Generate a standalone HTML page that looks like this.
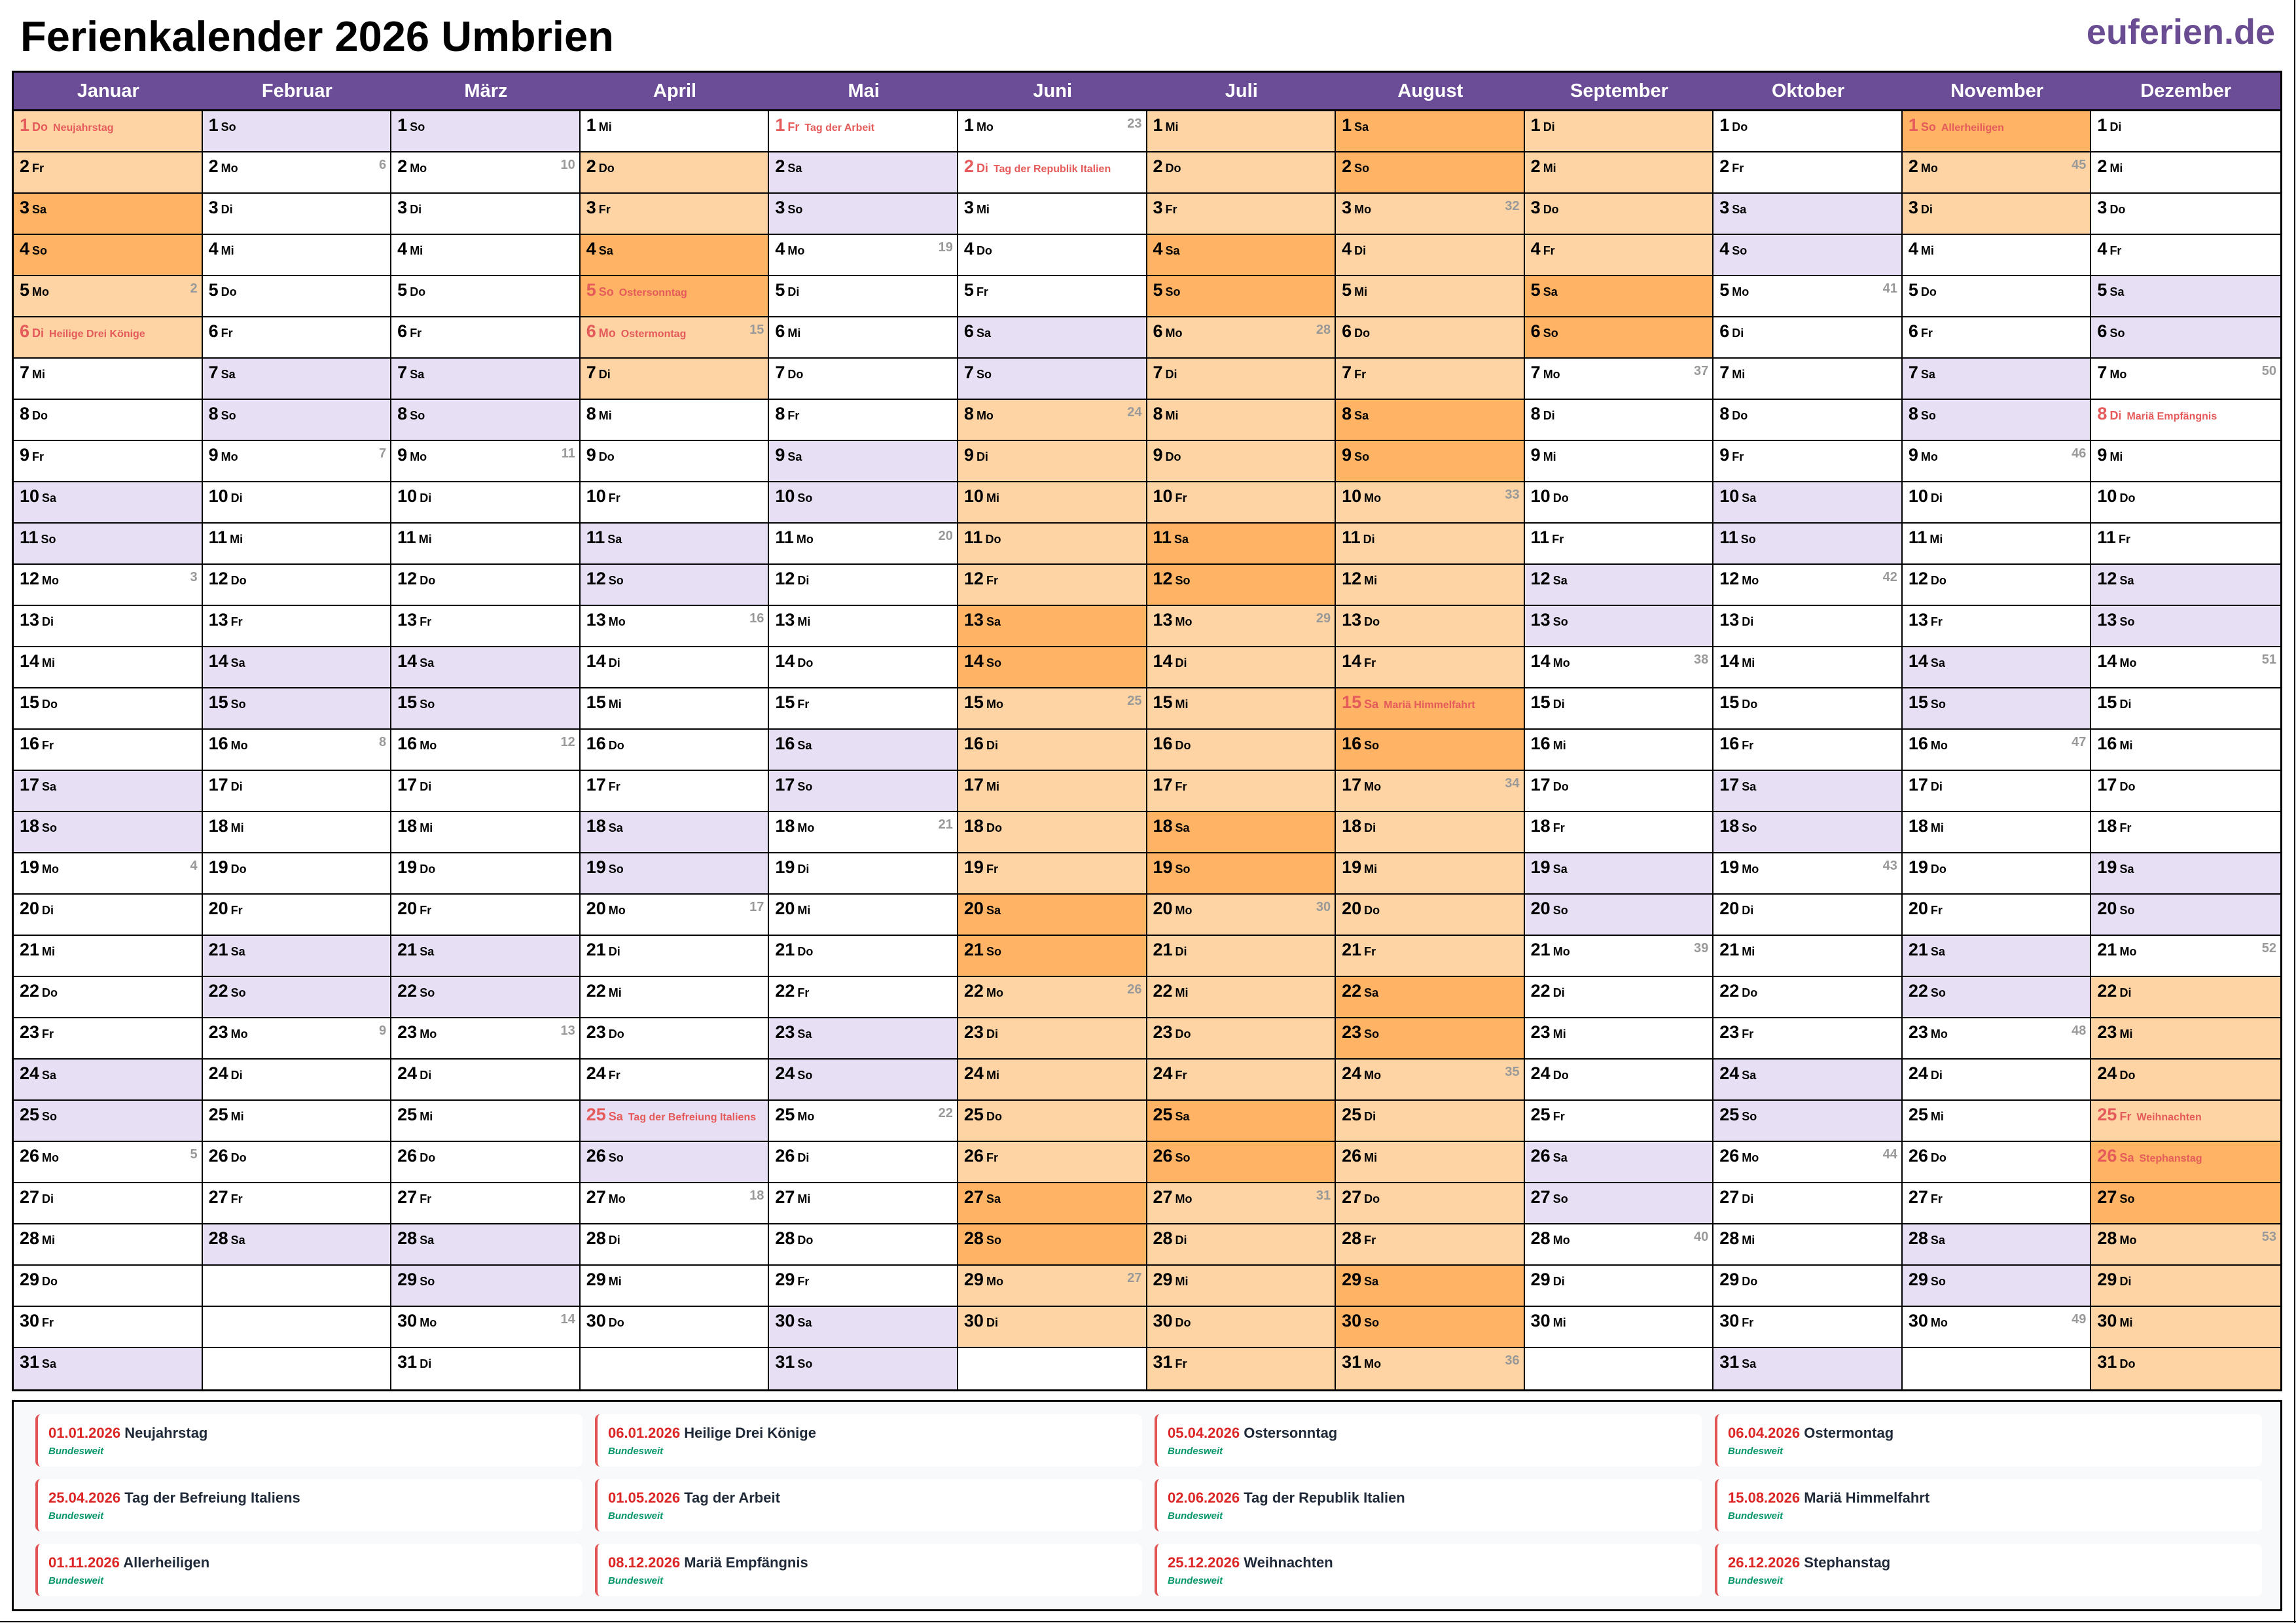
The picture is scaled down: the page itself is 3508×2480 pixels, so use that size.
<!DOCTYPE html>
<html><head><meta charset="utf-8"><style>
*{box-sizing:border-box}
body{margin:0;width:3508px;height:2480px;background:#fff;position:relative;overflow:hidden;font-family:"Liberation Sans",sans-serif}
.t{position:absolute;left:31px;top:18px;font:bold 65px "Liberation Sans",sans-serif;color:#000;white-space:nowrap}
.lg{position:absolute;right:32px;top:18px;font:bold 54px "Liberation Sans",sans-serif;color:#6a4c93}
.tb{position:absolute;left:18px;top:108px;width:3469px;border:3px solid #000}
.hd{display:grid;grid-template-columns:repeat(12,1fr);height:59px;background:#6b4c96;border-bottom:3px solid #000}
.hd div{color:#fff;font-weight:bold;font-size:29px;text-align:center;line-height:56px}
.g{display:grid;grid-template-columns:repeat(12,1fr);grid-template-rows:repeat(31,63px);grid-auto-flow:column}
.g p{margin:0;border-right:2px solid #000;border-bottom:2px solid #000;position:relative;padding:5px 0 0 9px;font-weight:bold;font-size:27px;line-height:32px;white-space:nowrap;overflow:hidden;color:#000}
.g p:nth-child(n+342){border-right:0}
.g p:nth-child(31n){border-bottom:0}
.g b{font-size:18px;margin-left:4px}
.g u{text-decoration:none;font-size:16px;margin-left:8px}
.g i{position:absolute;right:6px;top:3px;font-style:normal;font-size:20px;color:#999}
.l{background:#fed4a4}.d{background:#feb365}.w{background:#e7dff3}.r{color:#e55a5a!important}
.le{position:absolute;left:18px;top:2139px;width:3469px;height:323px;border:3px solid #000;background:#f8f9fb}
.c{position:absolute;width:836px;height:80px;background:#fff;border-left:4px solid #e25555;border-radius:8px;padding:16px 0 0 16px}
.c div{font-size:22px;font-weight:bold;color:#1f2937;white-space:nowrap;line-height:26px}
.c div span{color:#dc2626}
.c em{display:block;font-size:15px;font-weight:bold;color:#059669;margin-top:6px}
</style></head><body>
<div class="t">Ferienkalender 2026 Umbrien</div>
<div class="lg">euferien.de</div>
<div class="tb">
<div class="hd"><div>Januar</div><div>Februar</div><div>März</div><div>April</div><div>Mai</div><div>Juni</div><div>Juli</div><div>August</div><div>September</div><div>Oktober</div><div>November</div><div>Dezember</div></div>
<div class="g">
<p class="l r">1<b>Do</b><u>Neujahrstag</u></p><p class="l">2<b>Fr</b></p><p class="d">3<b>Sa</b></p><p class="d">4<b>So</b></p><p class="l">5<b>Mo</b><i>2</i></p><p class="l r">6<b>Di</b><u>Heilige Drei Könige</u></p><p>7<b>Mi</b></p><p>8<b>Do</b></p><p>9<b>Fr</b></p><p class="w">10<b>Sa</b></p><p class="w">11<b>So</b></p><p>12<b>Mo</b><i>3</i></p><p>13<b>Di</b></p><p>14<b>Mi</b></p><p>15<b>Do</b></p><p>16<b>Fr</b></p><p class="w">17<b>Sa</b></p><p class="w">18<b>So</b></p><p>19<b>Mo</b><i>4</i></p><p>20<b>Di</b></p><p>21<b>Mi</b></p><p>22<b>Do</b></p><p>23<b>Fr</b></p><p class="w">24<b>Sa</b></p><p class="w">25<b>So</b></p><p>26<b>Mo</b><i>5</i></p><p>27<b>Di</b></p><p>28<b>Mi</b></p><p>29<b>Do</b></p><p>30<b>Fr</b></p><p class="w">31<b>Sa</b></p>
<p class="w">1<b>So</b></p><p>2<b>Mo</b><i>6</i></p><p>3<b>Di</b></p><p>4<b>Mi</b></p><p>5<b>Do</b></p><p>6<b>Fr</b></p><p class="w">7<b>Sa</b></p><p class="w">8<b>So</b></p><p>9<b>Mo</b><i>7</i></p><p>10<b>Di</b></p><p>11<b>Mi</b></p><p>12<b>Do</b></p><p>13<b>Fr</b></p><p class="w">14<b>Sa</b></p><p class="w">15<b>So</b></p><p>16<b>Mo</b><i>8</i></p><p>17<b>Di</b></p><p>18<b>Mi</b></p><p>19<b>Do</b></p><p>20<b>Fr</b></p><p class="w">21<b>Sa</b></p><p class="w">22<b>So</b></p><p>23<b>Mo</b><i>9</i></p><p>24<b>Di</b></p><p>25<b>Mi</b></p><p>26<b>Do</b></p><p>27<b>Fr</b></p><p class="w">28<b>Sa</b></p><p></p><p></p><p></p>
<p class="w">1<b>So</b></p><p>2<b>Mo</b><i>10</i></p><p>3<b>Di</b></p><p>4<b>Mi</b></p><p>5<b>Do</b></p><p>6<b>Fr</b></p><p class="w">7<b>Sa</b></p><p class="w">8<b>So</b></p><p>9<b>Mo</b><i>11</i></p><p>10<b>Di</b></p><p>11<b>Mi</b></p><p>12<b>Do</b></p><p>13<b>Fr</b></p><p class="w">14<b>Sa</b></p><p class="w">15<b>So</b></p><p>16<b>Mo</b><i>12</i></p><p>17<b>Di</b></p><p>18<b>Mi</b></p><p>19<b>Do</b></p><p>20<b>Fr</b></p><p class="w">21<b>Sa</b></p><p class="w">22<b>So</b></p><p>23<b>Mo</b><i>13</i></p><p>24<b>Di</b></p><p>25<b>Mi</b></p><p>26<b>Do</b></p><p>27<b>Fr</b></p><p class="w">28<b>Sa</b></p><p class="w">29<b>So</b></p><p>30<b>Mo</b><i>14</i></p><p>31<b>Di</b></p>
<p>1<b>Mi</b></p><p class="l">2<b>Do</b></p><p class="l">3<b>Fr</b></p><p class="d">4<b>Sa</b></p><p class="d r">5<b>So</b><u>Ostersonntag</u></p><p class="l r">6<b>Mo</b><u>Ostermontag</u><i>15</i></p><p class="l">7<b>Di</b></p><p>8<b>Mi</b></p><p>9<b>Do</b></p><p>10<b>Fr</b></p><p class="w">11<b>Sa</b></p><p class="w">12<b>So</b></p><p>13<b>Mo</b><i>16</i></p><p>14<b>Di</b></p><p>15<b>Mi</b></p><p>16<b>Do</b></p><p>17<b>Fr</b></p><p class="w">18<b>Sa</b></p><p class="w">19<b>So</b></p><p>20<b>Mo</b><i>17</i></p><p>21<b>Di</b></p><p>22<b>Mi</b></p><p>23<b>Do</b></p><p>24<b>Fr</b></p><p class="w r">25<b>Sa</b><u>Tag der Befreiung Italiens</u></p><p class="w">26<b>So</b></p><p>27<b>Mo</b><i>18</i></p><p>28<b>Di</b></p><p>29<b>Mi</b></p><p>30<b>Do</b></p><p></p>
<p class="r">1<b>Fr</b><u>Tag der Arbeit</u></p><p class="w">2<b>Sa</b></p><p class="w">3<b>So</b></p><p>4<b>Mo</b><i>19</i></p><p>5<b>Di</b></p><p>6<b>Mi</b></p><p>7<b>Do</b></p><p>8<b>Fr</b></p><p class="w">9<b>Sa</b></p><p class="w">10<b>So</b></p><p>11<b>Mo</b><i>20</i></p><p>12<b>Di</b></p><p>13<b>Mi</b></p><p>14<b>Do</b></p><p>15<b>Fr</b></p><p class="w">16<b>Sa</b></p><p class="w">17<b>So</b></p><p>18<b>Mo</b><i>21</i></p><p>19<b>Di</b></p><p>20<b>Mi</b></p><p>21<b>Do</b></p><p>22<b>Fr</b></p><p class="w">23<b>Sa</b></p><p class="w">24<b>So</b></p><p>25<b>Mo</b><i>22</i></p><p>26<b>Di</b></p><p>27<b>Mi</b></p><p>28<b>Do</b></p><p>29<b>Fr</b></p><p class="w">30<b>Sa</b></p><p class="w">31<b>So</b></p>
<p>1<b>Mo</b><i>23</i></p><p class="r">2<b>Di</b><u>Tag der Republik Italien</u></p><p>3<b>Mi</b></p><p>4<b>Do</b></p><p>5<b>Fr</b></p><p class="w">6<b>Sa</b></p><p class="w">7<b>So</b></p><p class="l">8<b>Mo</b><i>24</i></p><p class="l">9<b>Di</b></p><p class="l">10<b>Mi</b></p><p class="l">11<b>Do</b></p><p class="l">12<b>Fr</b></p><p class="d">13<b>Sa</b></p><p class="d">14<b>So</b></p><p class="l">15<b>Mo</b><i>25</i></p><p class="l">16<b>Di</b></p><p class="l">17<b>Mi</b></p><p class="l">18<b>Do</b></p><p class="l">19<b>Fr</b></p><p class="d">20<b>Sa</b></p><p class="d">21<b>So</b></p><p class="l">22<b>Mo</b><i>26</i></p><p class="l">23<b>Di</b></p><p class="l">24<b>Mi</b></p><p class="l">25<b>Do</b></p><p class="l">26<b>Fr</b></p><p class="d">27<b>Sa</b></p><p class="d">28<b>So</b></p><p class="l">29<b>Mo</b><i>27</i></p><p class="l">30<b>Di</b></p><p></p>
<p class="l">1<b>Mi</b></p><p class="l">2<b>Do</b></p><p class="l">3<b>Fr</b></p><p class="d">4<b>Sa</b></p><p class="d">5<b>So</b></p><p class="l">6<b>Mo</b><i>28</i></p><p class="l">7<b>Di</b></p><p class="l">8<b>Mi</b></p><p class="l">9<b>Do</b></p><p class="l">10<b>Fr</b></p><p class="d">11<b>Sa</b></p><p class="d">12<b>So</b></p><p class="l">13<b>Mo</b><i>29</i></p><p class="l">14<b>Di</b></p><p class="l">15<b>Mi</b></p><p class="l">16<b>Do</b></p><p class="l">17<b>Fr</b></p><p class="d">18<b>Sa</b></p><p class="d">19<b>So</b></p><p class="l">20<b>Mo</b><i>30</i></p><p class="l">21<b>Di</b></p><p class="l">22<b>Mi</b></p><p class="l">23<b>Do</b></p><p class="l">24<b>Fr</b></p><p class="d">25<b>Sa</b></p><p class="d">26<b>So</b></p><p class="l">27<b>Mo</b><i>31</i></p><p class="l">28<b>Di</b></p><p class="l">29<b>Mi</b></p><p class="l">30<b>Do</b></p><p class="l">31<b>Fr</b></p>
<p class="d">1<b>Sa</b></p><p class="d">2<b>So</b></p><p class="l">3<b>Mo</b><i>32</i></p><p class="l">4<b>Di</b></p><p class="l">5<b>Mi</b></p><p class="l">6<b>Do</b></p><p class="l">7<b>Fr</b></p><p class="d">8<b>Sa</b></p><p class="d">9<b>So</b></p><p class="l">10<b>Mo</b><i>33</i></p><p class="l">11<b>Di</b></p><p class="l">12<b>Mi</b></p><p class="l">13<b>Do</b></p><p class="l">14<b>Fr</b></p><p class="d r">15<b>Sa</b><u>Mariä Himmelfahrt</u></p><p class="d">16<b>So</b></p><p class="l">17<b>Mo</b><i>34</i></p><p class="l">18<b>Di</b></p><p class="l">19<b>Mi</b></p><p class="l">20<b>Do</b></p><p class="l">21<b>Fr</b></p><p class="d">22<b>Sa</b></p><p class="d">23<b>So</b></p><p class="l">24<b>Mo</b><i>35</i></p><p class="l">25<b>Di</b></p><p class="l">26<b>Mi</b></p><p class="l">27<b>Do</b></p><p class="l">28<b>Fr</b></p><p class="d">29<b>Sa</b></p><p class="d">30<b>So</b></p><p class="l">31<b>Mo</b><i>36</i></p>
<p class="l">1<b>Di</b></p><p class="l">2<b>Mi</b></p><p class="l">3<b>Do</b></p><p class="l">4<b>Fr</b></p><p class="d">5<b>Sa</b></p><p class="d">6<b>So</b></p><p>7<b>Mo</b><i>37</i></p><p>8<b>Di</b></p><p>9<b>Mi</b></p><p>10<b>Do</b></p><p>11<b>Fr</b></p><p class="w">12<b>Sa</b></p><p class="w">13<b>So</b></p><p>14<b>Mo</b><i>38</i></p><p>15<b>Di</b></p><p>16<b>Mi</b></p><p>17<b>Do</b></p><p>18<b>Fr</b></p><p class="w">19<b>Sa</b></p><p class="w">20<b>So</b></p><p>21<b>Mo</b><i>39</i></p><p>22<b>Di</b></p><p>23<b>Mi</b></p><p>24<b>Do</b></p><p>25<b>Fr</b></p><p class="w">26<b>Sa</b></p><p class="w">27<b>So</b></p><p>28<b>Mo</b><i>40</i></p><p>29<b>Di</b></p><p>30<b>Mi</b></p><p></p>
<p>1<b>Do</b></p><p>2<b>Fr</b></p><p class="w">3<b>Sa</b></p><p class="w">4<b>So</b></p><p>5<b>Mo</b><i>41</i></p><p>6<b>Di</b></p><p>7<b>Mi</b></p><p>8<b>Do</b></p><p>9<b>Fr</b></p><p class="w">10<b>Sa</b></p><p class="w">11<b>So</b></p><p>12<b>Mo</b><i>42</i></p><p>13<b>Di</b></p><p>14<b>Mi</b></p><p>15<b>Do</b></p><p>16<b>Fr</b></p><p class="w">17<b>Sa</b></p><p class="w">18<b>So</b></p><p>19<b>Mo</b><i>43</i></p><p>20<b>Di</b></p><p>21<b>Mi</b></p><p>22<b>Do</b></p><p>23<b>Fr</b></p><p class="w">24<b>Sa</b></p><p class="w">25<b>So</b></p><p>26<b>Mo</b><i>44</i></p><p>27<b>Di</b></p><p>28<b>Mi</b></p><p>29<b>Do</b></p><p>30<b>Fr</b></p><p class="w">31<b>Sa</b></p>
<p class="d r">1<b>So</b><u>Allerheiligen</u></p><p class="l">2<b>Mo</b><i>45</i></p><p class="l">3<b>Di</b></p><p>4<b>Mi</b></p><p>5<b>Do</b></p><p>6<b>Fr</b></p><p class="w">7<b>Sa</b></p><p class="w">8<b>So</b></p><p>9<b>Mo</b><i>46</i></p><p>10<b>Di</b></p><p>11<b>Mi</b></p><p>12<b>Do</b></p><p>13<b>Fr</b></p><p class="w">14<b>Sa</b></p><p class="w">15<b>So</b></p><p>16<b>Mo</b><i>47</i></p><p>17<b>Di</b></p><p>18<b>Mi</b></p><p>19<b>Do</b></p><p>20<b>Fr</b></p><p class="w">21<b>Sa</b></p><p class="w">22<b>So</b></p><p>23<b>Mo</b><i>48</i></p><p>24<b>Di</b></p><p>25<b>Mi</b></p><p>26<b>Do</b></p><p>27<b>Fr</b></p><p class="w">28<b>Sa</b></p><p class="w">29<b>So</b></p><p>30<b>Mo</b><i>49</i></p><p></p>
<p>1<b>Di</b></p><p>2<b>Mi</b></p><p>3<b>Do</b></p><p>4<b>Fr</b></p><p class="w">5<b>Sa</b></p><p class="w">6<b>So</b></p><p>7<b>Mo</b><i>50</i></p><p class="r">8<b>Di</b><u>Mariä Empfängnis</u></p><p>9<b>Mi</b></p><p>10<b>Do</b></p><p>11<b>Fr</b></p><p class="w">12<b>Sa</b></p><p class="w">13<b>So</b></p><p>14<b>Mo</b><i>51</i></p><p>15<b>Di</b></p><p>16<b>Mi</b></p><p>17<b>Do</b></p><p>18<b>Fr</b></p><p class="w">19<b>Sa</b></p><p class="w">20<b>So</b></p><p>21<b>Mo</b><i>52</i></p><p class="l">22<b>Di</b></p><p class="l">23<b>Mi</b></p><p class="l">24<b>Do</b></p><p class="l r">25<b>Fr</b><u>Weihnachten</u></p><p class="d r">26<b>Sa</b><u>Stephanstag</u></p><p class="d">27<b>So</b></p><p class="l">28<b>Mo</b><i>53</i></p><p class="l">29<b>Di</b></p><p class="l">30<b>Mi</b></p><p class="l">31<b>Do</b></p>
</div></div>
<div class="le">
<div class="c" style="left:33px;top:19px"><div><span>01.01.2026</span> Neujahrstag</div><em>Bundesweit</em></div>
<div class="c" style="left:888px;top:19px"><div><span>06.01.2026</span> Heilige Drei Könige</div><em>Bundesweit</em></div>
<div class="c" style="left:1743px;top:19px"><div><span>05.04.2026</span> Ostersonntag</div><em>Bundesweit</em></div>
<div class="c" style="left:2599px;top:19px"><div><span>06.04.2026</span> Ostermontag</div><em>Bundesweit</em></div>
<div class="c" style="left:33px;top:118px"><div><span>25.04.2026</span> Tag der Befreiung Italiens</div><em>Bundesweit</em></div>
<div class="c" style="left:888px;top:118px"><div><span>01.05.2026</span> Tag der Arbeit</div><em>Bundesweit</em></div>
<div class="c" style="left:1743px;top:118px"><div><span>02.06.2026</span> Tag der Republik Italien</div><em>Bundesweit</em></div>
<div class="c" style="left:2599px;top:118px"><div><span>15.08.2026</span> Mariä Himmelfahrt</div><em>Bundesweit</em></div>
<div class="c" style="left:33px;top:217px"><div><span>01.11.2026</span> Allerheiligen</div><em>Bundesweit</em></div>
<div class="c" style="left:888px;top:217px"><div><span>08.12.2026</span> Mariä Empfängnis</div><em>Bundesweit</em></div>
<div class="c" style="left:1743px;top:217px"><div><span>25.12.2026</span> Weihnachten</div><em>Bundesweit</em></div>
<div class="c" style="left:2599px;top:217px"><div><span>26.12.2026</span> Stephanstag</div><em>Bundesweit</em></div>
</div>
<div style="position:absolute;left:0;top:2477px;width:3508px;height:2px;background:#000"></div>
<div style="position:absolute;left:3505px;top:0;width:2px;height:2480px;background:#000"></div>
</body></html>
